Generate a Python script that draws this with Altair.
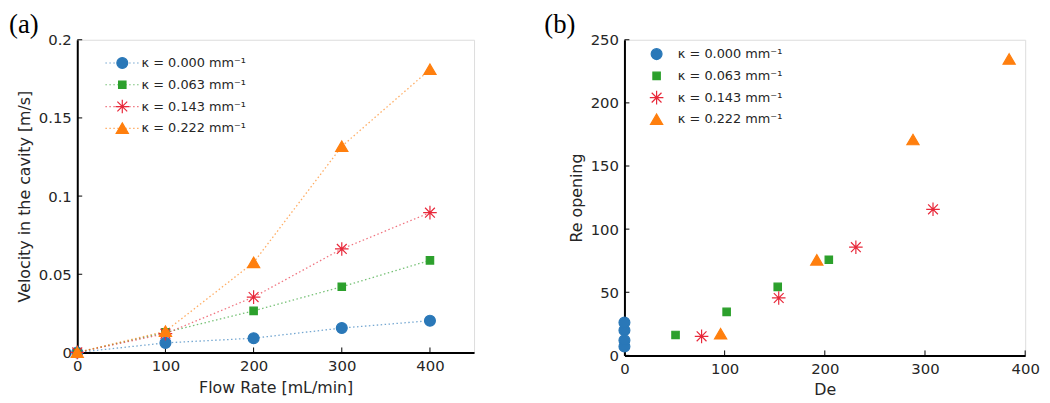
import altair as alt
import pandas as pd

# ---------------- data ----------------
series_labels = ["κ = 0.000 mm⁻¹", "κ = 0.063 mm⁻¹", "κ = 0.143 mm⁻¹", "κ = 0.222 mm⁻¹"]
series_colors = ["#2a78b8", "#2ca02c", "#e8283a", "#ff7f0e"]

# panel (a): velocity in the cavity vs flow rate
flow_rate = [0, 100, 200, 300, 400]
vel_k0 = [0.0, 0.0061, 0.0091, 0.0156, 0.0203]
vel_k1 = [0.0, 0.0128, 0.0266, 0.0420, 0.0589]
vel_k2 = [0.0, 0.0120, 0.0354, 0.0662, 0.0894]
vel_k3 = [0.0, 0.0135, 0.0575, 0.1318, 0.1810]

# panel (b): Re opening vs De
de_k0 = [0, 0, 0, 0]
re_k0 = [7, 12, 20, 26]
de_k1 = [51, 102, 153, 204]
re_k1 = [16.2, 34.5, 54.3, 75.8]
de_k2 = [77, 154, 231, 308]
re_k2 = [15.1, 45.5, 85.7, 115.7]
de_k3 = [96, 192, 288, 384]
re_k3 = [17.0, 75.5, 170.8, 234.6]

ticks_a_x = [0, 100, 200, 300, 400]
ticks_a_y = [0, 0.05, 0.1, 0.15, 0.2]
ticks_b_x = [0, 100, 200, 300, 400]
ticks_b_y = [0, 50, 100, 150, 200, 250]

# ---------------- tables ----------------
rows_a = []
for lab, vals in zip(series_labels, [vel_k0, vel_k1, vel_k2, vel_k3]):
    for q, v in zip(flow_rate, vals):
        rows_a.append({"series": lab, "flow": q, "vel": v})
df_a = pd.DataFrame(rows_a)

rows_b = []
for lab, des, res in zip(series_labels, [de_k0, de_k1, de_k2, de_k3], [re_k0, re_k1, re_k2, re_k3]):
    for d, r in zip(des, res):
        rows_b.append({"series": lab, "De": d, "Re": r})
df_b = pd.DataFrame(rows_b)

STAR = "M-1.25,0L1.25,0M0,-1.25L0,1.25M-0.9,-0.9L0.9,0.9M-0.9,0.9L0.9,-0.9"
SQUARE = "M-0.68,-0.68L0.68,-0.68L0.68,0.68L-0.68,0.68Z"
TRI = "M0,-1.0L1.12,0.92L-1.12,0.92Z"
shapes = ["circle", SQUARE, STAR, TRI]
# dotted legend line; zero-length end segments give it the same height as the star
LINE_SYM = "M-3.1,0L3.1,0M0,-1.25L0,-1.25M0,1.25L0,1.25"

FONT = "DejaVu Sans"
TXT = "#262626"

W_A, H_A = 401, 316
W_B, H_B = 405, 319


def axis(title, values):
    return alt.Axis(
        title=title, values=values, format="~r", grid=False, ticks=False, tickSize=0,
        labelFlush=False, labelOverlap=False,
        domainColor="black", domainWidth=2, labelFont=FONT, labelFontSize=15,
        labelColor=TXT, labelPadding=6, titleFont=FONT, titleFontSize=16,
        titleFontWeight="normal", titleColor=TXT, titlePadding=6,
    )


def point_legend(lx, ly, lab_off):
    return alt.Legend(
        orient="none", legendX=lx, legendY=ly, title=None, padding=0, gridAlign="all",
        labelFont=FONT, labelFontSize=13, labelColor=TXT, labelOffset=lab_off,
        symbolSize=121, symbolStrokeWidth=1.2, symbolOpacity=1, rowPadding=3,
    )


def tick_layers(vals_x, vals_y, xfield, yfield, xscale, yscale, h):
    tx = alt.Chart(pd.DataFrame({xfield: vals_x})).mark_rule(color="black", strokeWidth=1).encode(
        x=alt.X(f"{xfield}:Q", scale=xscale), y=alt.value(h), y2=alt.value(h - 5)
    )
    ty = alt.Chart(pd.DataFrame({yfield: vals_y})).mark_rule(color="black", strokeWidth=1).encode(
        y=alt.Y(f"{yfield}:Q", scale=yscale), x=alt.value(0), x2=alt.value(5)
    )
    return tx, ty


# ---------------- panel (a) ----------------
xs_a = alt.Scale(domain=[0, 450], nice=False, zero=False)
ys_a = alt.Scale(domain=[0, 0.2], nice=False, zero=False)
cscale = alt.Scale(domain=series_labels, range=series_colors)
sscale = alt.Scale(domain=series_labels, range=shapes)

base_a = alt.Chart(df_a).encode(
    x=alt.X("flow:Q", scale=xs_a, axis=axis("Flow Rate [mL/min]", ticks_a_x)),
    y=alt.Y("vel:Q", scale=ys_a, axis=axis("Velocity in the cavity [m/s]", ticks_a_y)),
)

lines_a = base_a.mark_line(strokeDash=[1.5, 2.5], strokeWidth=1.3, opacity=0.65).encode(
    color=alt.Color("series:N", scale=cscale, legend=alt.Legend(
        orient="none", legendX=39, legendY=17, title=None, padding=0, gridAlign="all",
        labelFont=FONT, labelFontSize=13, labelExpr="''", labelOffset=13,
        symbolType=LINE_SYM, symbolSize=121, symbolStrokeWidth=1.2, symbolDash=[1.5, 2.5],
        symbolOpacity=0.65, rowPadding=3,
    )),
    order="flow:Q",
)

pleg_a = point_legend(39, 17, 13)
pts_a = base_a.mark_point(filled=True, opacity=1, size=121, strokeWidth=1.2).encode(
    color=alt.Color("series:N", scale=cscale, legend=pleg_a),
    stroke=alt.Stroke("series:N", scale=cscale, legend=pleg_a),
    shape=alt.Shape("series:N", scale=sscale, legend=pleg_a),
)

tx_a, ty_a = tick_layers(ticks_a_x, ticks_a_y, "flow", "vel", xs_a, ys_a, H_A)

panel_a = alt.layer(tx_a, ty_a, lines_a, pts_a).resolve_scale(
    color="independent", stroke="independent", shape="independent"
).properties(
    width=W_A, height=H_A,
    title=alt.TitleParams("(a)", font="Liberation Serif", fontSize=27, fontWeight="normal",
                          anchor="start", frame="group", dx=-69, offset=-6, color="black"),
)

# ---------------- panel (b) ----------------
xs_b = alt.Scale(domain=[0, 400], nice=False, zero=False)
ys_b = alt.Scale(domain=[0, 250], nice=False, zero=False)

pleg_b = point_legend(26, 8, 15)
pts_b = alt.Chart(df_b).mark_point(filled=True, opacity=1, size=121, strokeWidth=1.2).encode(
    x=alt.X("De:Q", scale=xs_b, axis=axis("De", ticks_b_x)),
    y=alt.Y("Re:Q", scale=ys_b, axis=axis("Re opening", ticks_b_y)),
    color=alt.Color("series:N", scale=cscale, legend=pleg_b),
    stroke=alt.Stroke("series:N", scale=cscale, legend=pleg_b),
    shape=alt.Shape("series:N", scale=sscale, legend=pleg_b),
)

tx_b, ty_b = tick_layers(ticks_b_x, ticks_b_y, "De", "Re", xs_b, ys_b, H_B)

panel_b = alt.layer(tx_b, ty_b, pts_b).properties(
    width=W_B, height=H_B,
    title=alt.TitleParams("(b)", font="Liberation Serif", fontSize=27, fontWeight="normal",
                          anchor="start", frame="group", dx=-81, offset=-6, color="black"),
)

chart = alt.hconcat(panel_a, panel_b, spacing=69).resolve_scale(
    color="independent", stroke="independent", shape="independent", x="independent", y="independent"
).properties(
    padding={"left": 0, "top": 0, "right": 2, "bottom": 0}
).configure_view(stroke=None).configure(background="white")

chart.save("out.html", embed_options={"renderer": "svg", "actions": False})
